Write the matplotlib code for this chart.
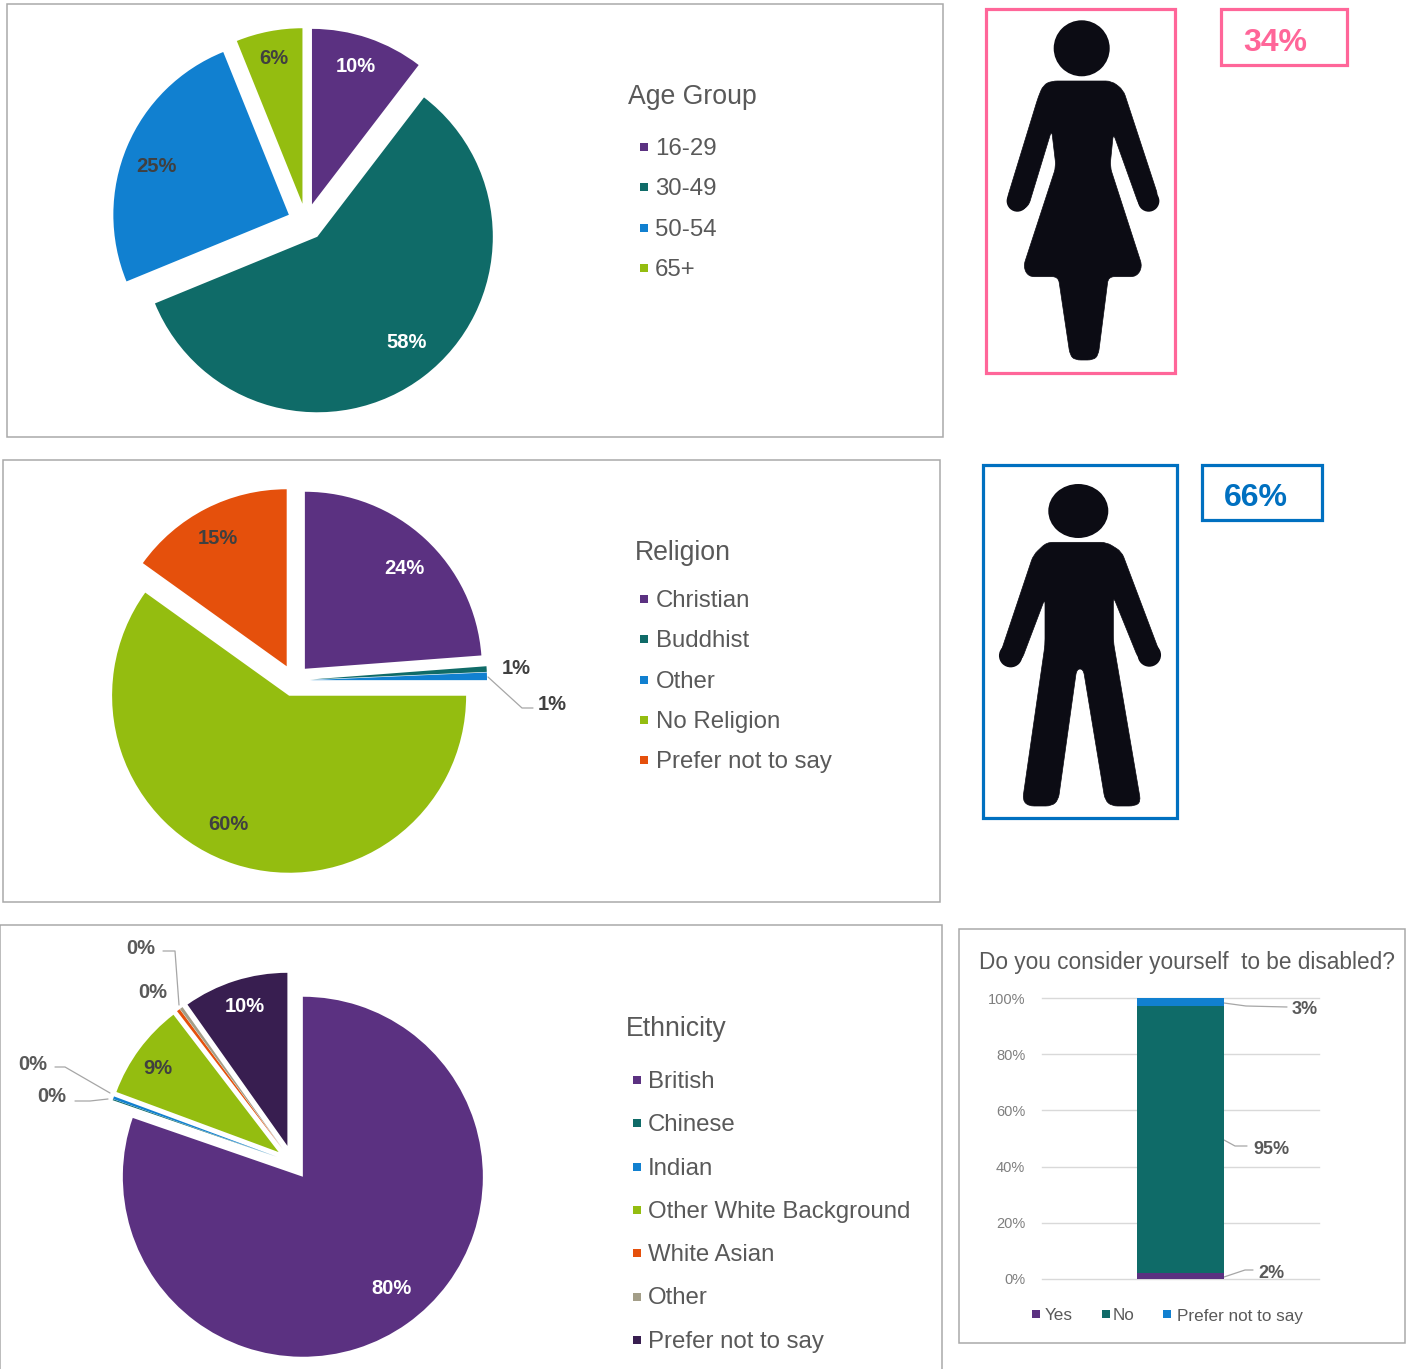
#!/usr/bin/env python3
"""Staff profile dashboard: three exploded pies, two gender icons, one stacked bar."""
import math

import matplotlib
matplotlib.use("Agg")
import matplotlib.pyplot as plt
from matplotlib.patches import Circle, Ellipse, PathPatch, Rectangle
from matplotlib.path import Path

W, H = 1411, 1369
TEXT_DY = 2   # va="center" sits a little high in Liberation Sans

PURPLE, TEAL, BLUE, GREEN = "#5b3181", "#0f6b68", "#1180d0", "#94bd10"
ORANGE, STONE, DARK = "#e5500c", "#a39e88", "#381e50"
PINK, MALE_BLUE = "#ff6699", "#0070c0"
FRAME = "#a9a9a9"
LABEL_DARK, LEGEND_TEXT = "#404040", "#595959"

age_groups = ["16-29", "30-49", "50-54", "65+"]
age_values = [10.4, 58.4, 25.1, 6.1]

religions = ["Christian", "Buddhist", "Other", "No Religion", "Prefer not to say"]
religion_values = [23.8, 0.51, 0.69, 59.9, 15.1]

ethnicities = ["British", "Chinese", "Indian", "Other White Background",
               "White Asian", "Other", "Prefer not to say"]
ethnicity_values = [80.3, 0.1, 0.25, 8.95, 0.3, 0.3, 9.8]

female_share, male_share = 34, 66

disabled_labels = ["Yes", "No", "Prefer not to say"]
disabled_values = [2, 95, 3]
pct_ticks = [0, 20, 40, 60, 80, 100]

# icon outlines, in the pixel grid of the zoomed crops (3x, see to_px)
woman_body = [(215, 243), (395, 243), (430, 270), (535, 590), (506, 635),
              (478, 618), (400, 400), (390, 500), (487, 800), (470, 830), (385, 830),
              (355, 1065), (340, 1080), (285, 1080), (270, 1065), (235, 830), (145, 830),
              (130, 800), (228, 500), (215, 390), (145, 620), (112, 635), (80, 600),
              (175, 290), (190, 255)]
man_body = [(215, 262), (395, 262), (440, 290), (555, 595), (523, 633),
            (490, 610), (415, 425), (415, 560), (497, 1040), (480, 1053), (410, 1053),
            (390, 1035), (325, 642), (305, 642), (250, 1035), (230, 1053), (160, 1053),
            (143, 1035), (210, 570), (210, 430), (140, 615), (107, 637), (73, 605),
            (175, 300)]

plt.rcParams["font.family"] = ["Liberation Sans", "DejaVu Sans"]

fig = plt.figure(figsize=(W / 100, H / 100), dpi=100)
canvas = fig.add_axes([0, 0, 1, 1])   # whole figure in pixels, y downwards


def to_px(points, x0, y0):
    return [(x0 + x / 3, y0 + y / 3) for x, y in points]


def rounded_outline(points, d):
    """Closed path through points, every corner cut by a quadratic curve of reach d."""
    verts, codes = [], []
    n = len(points)
    for i, (x, y) in enumerate(points):
        px, py = points[i - 1]
        nx, ny = points[(i + 1) % n]
        a = min(d, math.dist((x, y), (px, py)) / 2) / math.dist((x, y), (px, py))
        b = min(d, math.dist((x, y), (nx, ny)) / 2) / math.dist((x, y), (nx, ny))
        verts.append((x + (px - x) * a, y + (py - y) * a))
        codes.append(Path.MOVETO if i == 0 else Path.LINETO)
        verts += [(x, y), (x + (nx - x) * b, y + (ny - y) * b)]
        codes += [Path.CURVE3, Path.CURVE3]
    verts.append(verts[0])
    codes.append(Path.CLOSEPOLY)
    return Path(verts, codes)


def frame(x0, y0, x1, y1, color=FRAME, lw=1.1):
    canvas.add_patch(Rectangle((x0, y0), x1 - x0, y1 - y0, fill=False, ec=color, lw=lw,
                               joinstyle="miter", clip_on=False))


def leader(points):
    xs, ys = zip(*points)
    canvas.plot(xs, ys, color="#a6a6a6", lw=0.9, solid_capstyle="round")


def draw_pie(values, colors, center, radius, explode, white, label_xy, small_radius=None):
    # y axis runs downwards, so -90 with counterclock gives clockwise from 12 o'clock
    wedges, _, texts = canvas.pie(values, colors=colors, center=center, radius=radius,
                                  explode=[explode] * len(values), startangle=-90,
                                  counterclock=True, autopct="%.0f%%", pctdistance=0.8,
                                  textprops=dict(fontsize=14.5, fontweight="bold"))
    for i, t in enumerate(texts):
        t.set_color("white" if i in white else LEGEND_TEXT if values[i] < 0.5 else LABEL_DARK)
        t.set_position((label_xy[i][0], label_xy[i][1] + TEXT_DY))
    if small_radius:   # the reference draws the smaller slices a bit shorter
        for w, v in zip(wedges, values):
            if v < 50:
                w.set_radius(small_radius)


def draw_legend(title, names, colors, title_xy, marker_x, text_x, y0, dy):
    canvas.text(title_xy[0], title_xy[1] + TEXT_DY, title, fontsize=19.2, color=LEGEND_TEXT,
                va="center")
    for i, (name, c) in enumerate(zip(names, colors)):
        y = y0 + i * dy
        canvas.scatter([marker_x], [y], marker="s", s=33, color=c, linewidths=0)
        canvas.text(text_x, y + TEXT_DY, name, fontsize=17.3, color=LEGEND_TEXT, va="center")


def draw_icon(outline, x0, y0, head, head_size, hands, hand_r):
    ink = "#0c0c14"
    canvas.add_patch(Ellipse(head, *head_size, color=ink, lw=0))
    canvas.add_patch(PathPatch(rounded_outline(to_px(outline, x0, y0), 6), fc=ink, ec=ink, lw=0.5))
    for xy in to_px(hands, x0, y0):
        canvas.add_patch(Circle(xy, hand_r, color=ink, lw=0))


# ---- pies ----
frame(7, 4, 943, 437)
age_colors = [PURPLE, TEAL, BLUE, GREEN]
draw_pie(age_values, age_colors, (306, 222), 175.5, 18.6, {0, 1},
         [(356, 65), (407, 341), (156, 164), (274, 57)])
draw_legend("Age Group", age_groups, age_colors, (628, 95), 644, 655, 147, 40.3)

frame(3, 460, 940, 902)
religion_colors = [PURPLE, TEAL, BLUE, GREEN, ORANGE]
draw_pie(religion_values, religion_colors, (294, 680.5), 177, 16, {0},
         [(404, 567), (516, 666), (552, 702), (228, 822), (218, 537)])
leader([(488, 677), (522, 708), (533, 708)])
draw_legend("Religion", religions, religion_colors, (635, 551), 644, 656, 599, 40.3)

frame(0, 925, 942, 1372)
ethnicity_colors = [PURPLE, TEAL, BLUE, GREEN, ORANGE, STONE, DARK]
draw_pie(ethnicity_values, ethnicity_colors, (292.7, 1162.5), 180, 17.5, {0, 6},
         [(392, 1286), (33, 1063), (52, 1094), (158, 1066), (153, 991), (141, 946), (245, 1005)],
         small_radius=173)
leader([(55, 1067), (65, 1067), (110, 1093)])
leader([(75, 1101), (90, 1101), (108, 1099)])
leader([(163, 951), (175, 951), (179, 1005)])
draw_legend("Ethnicity", ethnicities, ethnicity_colors, (626, 1027), 637, 648, 1080, 43.3)

# pie() resets the limits on every call
canvas.set_xlim(0, W)
canvas.set_ylim(H, 0)
canvas.set_aspect("auto")
canvas.axis("off")

# ---- gender icons ----
frame(986, 9, 1175, 373, PINK, 2.3)
frame(1221, 9, 1347, 65, PINK, 2.3)
draw_icon(woman_body, 980, 0, (1081.7, 48.3), (56, 56), [(112, 603), (506, 603)], 10.7)
canvas.text(1275, 41 + TEXT_DY, f"{female_share}%", fontsize=23, fontweight="bold", color=PINK,
            ha="center", va="center")

frame(983, 465, 1177, 818, MALE_BLUE, 2.3)
frame(1202, 465, 1322, 520, MALE_BLUE, 2.3)
draw_icon(man_body, 975, 455, (1078.3, 511), (60, 54), [(107, 602), (523, 600)], 11.7)
canvas.text(1256, 496 + TEXT_DY, f"{male_share}%", fontsize=23, fontweight="bold", color=MALE_BLUE,
            ha="center", va="center")

# ---- disabled? stacked bar ----
frame(959, 929, 1405, 1343)
canvas.text(979, 961 + TEXT_DY, "Do you consider yourself  to be disabled?", fontsize=16.25,
            color=LEGEND_TEXT, va="center")

bar_ax = fig.add_axes([1042 / W, 1 - 1279 / H, 277 / W, 281 / H], facecolor="none")
bar_colors = [PURPLE, TEAL, BLUE]
bottom = 0
for v, c in zip(disabled_values, bar_colors):
    bar_ax.bar(0, v, width=0.314, bottom=bottom, color=c, zorder=3)
    bottom += v
bar_ax.set_xlim(-0.5, 0.5)
bar_ax.set_ylim(0, 100)
bar_ax.set_xticks([])
bar_ax.set_yticks(pct_ticks, [f"{t}%" for t in pct_ticks])
bar_ax.tick_params(axis="y", length=0, pad=12, labelsize=10.5, labelcolor="#7f7f7f")
bar_ax.grid(axis="y", color="#d9d9d9", lw=1)
bar_ax.set_axisbelow(True)
for s in bar_ax.spines.values():
    s.set_visible(False)
for t in bar_ax.get_ygridlines():
    t.set_clip_on(False)

for v, (x, y) in zip(disabled_values, [(1271, 1272), (1271, 1147), (1305, 1008)]):
    canvas.text(x, y + TEXT_DY, f"{v}%", fontsize=13, fontweight="bold", color=LEGEND_TEXT,
                ha="center", va="center")
leader([(1224, 1003), (1246, 1006), (1287, 1007)])
leader([(1224, 1140), (1235, 1146), (1247, 1146)])
leader([(1224, 1277), (1245, 1270), (1253, 1270)])

for name, c, mx, tx in zip(disabled_labels, bar_colors, [1036, 1106, 1167], [1045, 1113, 1177]):
    canvas.scatter([mx], [1314], marker="s", s=33, color=c, linewidths=0)
    canvas.text(tx, 1314 + TEXT_DY, name, fontsize=12.3, color=LEGEND_TEXT, va="center")

canvas.set_xlim(0, W)
canvas.set_ylim(H, 0)

fig.savefig("out.png", dpi=100)
